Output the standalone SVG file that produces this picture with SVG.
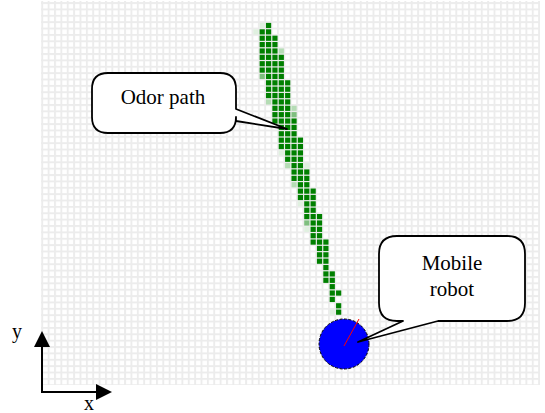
<svg xmlns="http://www.w3.org/2000/svg" xmlns:xlink="http://www.w3.org/1999/xlink" width="545" height="413" viewBox="0 0 545 413">
  <style>
    .callout{fill:#fff;stroke:#000;stroke-width:1.8;stroke-linejoin:round}
    .lbl{font-family:"Liberation Serif","Times New Roman",serif;font-size:21px;fill:#000;text-anchor:middle}
    .axis{stroke:#000;stroke-width:2;fill:none}
    .axlbl{font-family:"Liberation Serif","Times New Roman",serif;font-size:20px;fill:#000}
  </style>
  <defs>
    <pattern id="grid" patternUnits="userSpaceOnUse" x="41.3" y="2.1" width="6.37" height="6.37">
      <rect width="6.37" height="6.37" fill="#fff"/>
      <rect width="1.9" height="6.37" fill="#ececec"/>
      <rect width="6.37" height="1.9" fill="#ececec"/>
    </pattern>
    <rect id="cd" width="5.2" height="5.2" fill="#008000"/>
    <rect id="cm" width="5.2" height="5.2" fill="#7fbf7f"/>
    <rect id="cl" width="5.2" height="5.2" fill="#b5dcb5"/>
    <rect id="cv" width="5.2" height="5.2" fill="#e0f0e0"/>
    <marker id="ah" viewBox="0 0 16 16" refX="2" refY="8" markerWidth="16" markerHeight="16" markerUnits="userSpaceOnUse" orient="auto">
      <path d="M0,0 L16,8 L0,16 Z" fill="#000"/>
    </marker>
  </defs>

  <!-- occupancy grid -->
  <rect id="field" x="41" y="1" width="499" height="384" fill="url(#grid)"/>

  <!-- odor concentration cells -->
  <g id="odor-cells">
    <use href="#cv" x="259.6" y="22.9"/><use href="#cd" x="265.97" y="22.9"/>
    <use href="#cv" x="253.23" y="29.27"/><use href="#cd" x="259.6" y="29.27"/><use href="#cd" x="265.97" y="29.27"/>
    <use href="#cd" x="259.6" y="35.64"/><use href="#cd" x="265.97" y="35.64"/><use href="#cd" x="272.34" y="35.64"/>
    <use href="#cd" x="259.6" y="42.01"/><use href="#cd" x="265.97" y="42.01"/><use href="#cd" x="272.34" y="42.01"/>
    <use href="#cd" x="259.6" y="48.38"/><use href="#cd" x="265.97" y="48.38"/><use href="#cd" x="272.34" y="48.38"/><use href="#cl" x="278.71" y="48.38"/>
    <use href="#cd" x="259.6" y="54.75"/><use href="#cd" x="265.97" y="54.75"/><use href="#cd" x="272.34" y="54.75"/><use href="#cd" x="278.71" y="54.75"/>
    <use href="#cd" x="259.6" y="61.12"/><use href="#cd" x="265.97" y="61.12"/><use href="#cd" x="272.34" y="61.12"/><use href="#cd" x="278.71" y="61.12"/>
    <use href="#cd" x="259.6" y="67.49"/><use href="#cd" x="265.97" y="67.49"/><use href="#cd" x="272.34" y="67.49"/><use href="#cd" x="278.71" y="67.49"/>
    <use href="#cm" x="259.6" y="73.86"/><use href="#cd" x="265.97" y="73.86"/><use href="#cd" x="272.34" y="73.86"/><use href="#cd" x="278.71" y="73.86"/>
    <use href="#cd" x="265.97" y="80.23"/><use href="#cd" x="272.34" y="80.23"/><use href="#cd" x="278.71" y="80.23"/><use href="#cd" x="285.08" y="80.23"/>
    <use href="#cd" x="265.97" y="86.6"/><use href="#cd" x="272.34" y="86.6"/><use href="#cd" x="278.71" y="86.6"/><use href="#cd" x="285.08" y="86.6"/>
    <use href="#cd" x="265.97" y="92.97"/><use href="#cd" x="272.34" y="92.97"/><use href="#cd" x="278.71" y="92.97"/><use href="#cd" x="285.08" y="92.97"/>
    <use href="#cl" x="265.97" y="99.34"/><use href="#cd" x="272.34" y="99.34"/><use href="#cd" x="278.71" y="99.34"/><use href="#cd" x="285.08" y="99.34"/>
    <use href="#cd" x="272.34" y="105.71"/><use href="#cd" x="278.71" y="105.71"/><use href="#cd" x="285.08" y="105.71"/><use href="#cl" x="291.45" y="105.71"/>
    <use href="#cd" x="272.34" y="112.08"/><use href="#cd" x="278.71" y="112.08"/><use href="#cd" x="285.08" y="112.08"/><use href="#cm" x="291.45" y="112.08"/>
    <use href="#cd" x="272.34" y="118.45"/><use href="#cd" x="278.71" y="118.45"/><use href="#cd" x="285.08" y="118.45"/><use href="#cd" x="291.45" y="118.45"/>
    <use href="#cd" x="278.71" y="124.82"/><use href="#cd" x="285.08" y="124.82"/><use href="#cd" x="291.45" y="124.82"/>
    <use href="#cd" x="278.71" y="131.19"/><use href="#cd" x="285.08" y="131.19"/><use href="#cd" x="291.45" y="131.19"/>
    <use href="#cd" x="278.71" y="137.56"/><use href="#cd" x="285.08" y="137.56"/><use href="#cd" x="291.45" y="137.56"/><use href="#cd" x="297.82" y="137.56"/>
    <use href="#cd" x="278.71" y="143.93"/><use href="#cd" x="285.08" y="143.93"/><use href="#cd" x="291.45" y="143.93"/><use href="#cd" x="297.82" y="143.93"/>
    <use href="#cv" x="278.71" y="150.3"/><use href="#cd" x="285.08" y="150.3"/><use href="#cd" x="291.45" y="150.3"/><use href="#cd" x="297.82" y="150.3"/>
    <use href="#cd" x="285.08" y="156.67"/><use href="#cd" x="291.45" y="156.67"/><use href="#cd" x="297.82" y="156.67"/>
    <use href="#cl" x="285.08" y="163.04"/><use href="#cd" x="291.45" y="163.04"/><use href="#cd" x="297.82" y="163.04"/><use href="#cv" x="304.19" y="163.04"/>
    <use href="#cd" x="291.45" y="169.41"/><use href="#cd" x="297.82" y="169.41"/><use href="#cd" x="304.19" y="169.41"/>
    <use href="#cd" x="291.45" y="175.78"/><use href="#cd" x="297.82" y="175.78"/><use href="#cd" x="304.19" y="175.78"/>
    <use href="#cl" x="291.45" y="182.15"/><use href="#cd" x="297.82" y="182.15"/><use href="#cd" x="304.19" y="182.15"/>
    <use href="#cd" x="297.82" y="188.52"/><use href="#cd" x="304.19" y="188.52"/><use href="#cd" x="310.56" y="188.52"/>
    <use href="#cd" x="297.82" y="194.89"/><use href="#cd" x="304.19" y="194.89"/><use href="#cd" x="310.56" y="194.89"/>
    <use href="#cv" x="297.82" y="201.26"/><use href="#cd" x="304.19" y="201.26"/><use href="#cd" x="310.56" y="201.26"/>
    <use href="#cd" x="304.19" y="207.63"/><use href="#cd" x="310.56" y="207.63"/>
    <use href="#cd" x="304.19" y="214"/><use href="#cd" x="310.56" y="214"/><use href="#cd" x="316.93" y="214"/>
    <use href="#cm" x="304.19" y="220.37"/><use href="#cd" x="310.56" y="220.37"/><use href="#cd" x="316.93" y="220.37"/>
    <use href="#cv" x="304.19" y="226.74"/><use href="#cd" x="310.56" y="226.74"/><use href="#cd" x="316.93" y="226.74"/>
    <use href="#cd" x="310.56" y="233.11"/><use href="#cd" x="316.93" y="233.11"/>
    <use href="#cd" x="310.56" y="239.48"/><use href="#cd" x="316.93" y="239.48"/><use href="#cd" x="323.3" y="239.48"/>
    <use href="#cd" x="316.93" y="245.85"/><use href="#cd" x="323.3" y="245.85"/>
    <use href="#cd" x="316.93" y="252.22"/><use href="#cd" x="323.3" y="252.22"/>
    <use href="#cd" x="316.93" y="258.59"/><use href="#cd" x="323.3" y="258.59"/>
    <use href="#cd" x="323.3" y="264.96"/>
    <use href="#cd" x="323.3" y="271.33"/><use href="#cd" x="329.67" y="271.33"/>
    <use href="#cd" x="323.3" y="277.7"/><use href="#cd" x="329.67" y="277.7"/>
    <use href="#cd" x="329.67" y="284.07"/>
    <use href="#cd" x="329.67" y="290.44"/><use href="#cd" x="336.04" y="290.44"/>
    <use href="#cd" x="329.67" y="296.81"/>
    <use href="#cd" x="336.04" y="303.18"/>
    <use href="#cv" x="329.67" y="309.55"/><use href="#cd" x="336.04" y="309.55"/>
  </g>

  <!-- robot body and heading -->
  <g id="robot">
    <circle cx="344" cy="344" r="25" fill="#0000ff" stroke="#000" stroke-width="1" stroke-dasharray="3 1.5"/>
    <line x1="344" y1="346" x2="359" y2="319" stroke="#ff0000" stroke-width="1"/>
  </g>

  <!-- callouts -->
  <g id="odor-path-callout">
    <path class="callout" d="M108,73 H220 Q236,73 236,89 V109 L287,129 L236,121 V117 Q236,133 220,133 H108 Q92,133 92,117 V89 Q92,73 108,73 Z"/>
    <text class="lbl" x="163" y="104">Odor path</text>
  </g>
  <g id="robot-callout">
    <path class="callout" d="M397,236 H507 Q525,236 525,254 V303 Q525,321 507,321 H438 L358,342 L403,321 H397 Q379,321 379,303 V254 Q379,236 397,236 Z"/>
    <text class="lbl" x="452" y="270">Mobile</text>
    <text class="lbl" x="452" y="296">robot</text>
  </g>

  <!-- coordinate axes -->
  <g id="axes">
    <line class="axis" x1="42" y1="392" x2="42" y2="345" marker-end="url(#ah)"/>
    <line class="axis" x1="41" y1="392" x2="98" y2="392" marker-end="url(#ah)"/>
    <text class="axlbl" x="12" y="338">y</text>
    <text class="axlbl" x="84" y="410">x</text>
  </g>
</svg>
